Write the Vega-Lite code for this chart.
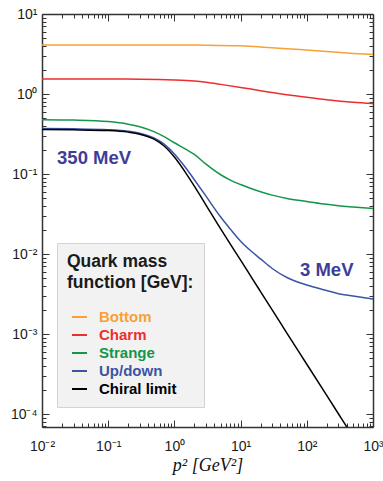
{
  "$schema": "https://vega.github.io/schema/vega-lite/v6.json",
  "width": 331,
  "height": 413,
  "autosize": "none",
  "padding": {"left": 42, "top": 14, "right": 10, "bottom": 54},
  "config": {
    "view": {"stroke": null},
    "font": "Liberation Sans",
    "axis": {"grid": false, "domainColor": "#333333", "domainWidth": 1.5, "tickColor": "#333333", "tickWidth": 1, "labelFont": "Liberation Sans", "labelFontSize": 14, "labelColor": "#1a1a1a"}
  },
  "datasets": {
    "curves": [
      {"x": 0.01, "y": 4.1, "s": "Bottom"}, {"x": 0.1, "y": 4.1, "s": "Bottom"}, {"x": 1, "y": 4.1, "s": "Bottom"}, {"x": 3, "y": 4.08, "s": "Bottom"}, {"x": 10, "y": 4.0, "s": "Bottom"}, {"x": 20, "y": 3.88, "s": "Bottom"}, {"x": 50, "y": 3.68, "s": "Bottom"}, {"x": 100, "y": 3.55, "s": "Bottom"}, {"x": 200, "y": 3.4, "s": "Bottom"}, {"x": 500, "y": 3.22, "s": "Bottom"}, {"x": 1000, "y": 3.12, "s": "Bottom"},
      {"x": 0.01, "y": 1.54, "s": "Charm"}, {"x": 0.1, "y": 1.54, "s": "Charm"}, {"x": 0.3, "y": 1.535, "s": "Charm"}, {"x": 1, "y": 1.5, "s": "Charm"}, {"x": 2, "y": 1.45, "s": "Charm"}, {"x": 3, "y": 1.4, "s": "Charm"}, {"x": 5, "y": 1.32, "s": "Charm"}, {"x": 10, "y": 1.21, "s": "Charm"}, {"x": 20, "y": 1.1, "s": "Charm"}, {"x": 50, "y": 0.98, "s": "Charm"}, {"x": 100, "y": 0.91, "s": "Charm"}, {"x": 200, "y": 0.85, "s": "Charm"}, {"x": 500, "y": 0.79, "s": "Charm"}, {"x": 1000, "y": 0.76, "s": "Charm"},
      {"x": 0.01, "y": 0.478, "s": "Strange"}, {"x": 0.03, "y": 0.472, "s": "Strange"}, {"x": 0.1, "y": 0.452, "s": "Strange"}, {"x": 0.2, "y": 0.42, "s": "Strange"}, {"x": 0.3, "y": 0.39, "s": "Strange"}, {"x": 0.5, "y": 0.337, "s": "Strange"}, {"x": 0.7, "y": 0.293, "s": "Strange"}, {"x": 1, "y": 0.246, "s": "Strange"}, {"x": 1.5, "y": 0.203, "s": "Strange"}, {"x": 2, "y": 0.176, "s": "Strange"}, {"x": 3, "y": 0.133, "s": "Strange"}, {"x": 5, "y": 0.098, "s": "Strange"}, {"x": 7, "y": 0.084, "s": "Strange"}, {"x": 10, "y": 0.074, "s": "Strange"}, {"x": 20, "y": 0.06, "s": "Strange"}, {"x": 30, "y": 0.0545, "s": "Strange"}, {"x": 50, "y": 0.0495, "s": "Strange"}, {"x": 100, "y": 0.0455, "s": "Strange"}, {"x": 200, "y": 0.0418, "s": "Strange"}, {"x": 300, "y": 0.0402, "s": "Strange"}, {"x": 500, "y": 0.0388, "s": "Strange"}, {"x": 1000, "y": 0.0372, "s": "Strange"},
      {"x": 0.01, "y": 0.37, "s": "Up/down"}, {"x": 0.03, "y": 0.367, "s": "Up/down"}, {"x": 0.1, "y": 0.358, "s": "Up/down"}, {"x": 0.2, "y": 0.343, "s": "Up/down"}, {"x": 0.3, "y": 0.324, "s": "Up/down"}, {"x": 0.5, "y": 0.28, "s": "Up/down"}, {"x": 0.7, "y": 0.236, "s": "Up/down"}, {"x": 1, "y": 0.178, "s": "Up/down"}, {"x": 1.5, "y": 0.118, "s": "Up/down"}, {"x": 2, "y": 0.085, "s": "Up/down"}, {"x": 3, "y": 0.053, "s": "Up/down"}, {"x": 5, "y": 0.029, "s": "Up/down"}, {"x": 7, "y": 0.0205, "s": "Up/down"}, {"x": 10, "y": 0.0145, "s": "Up/down"}, {"x": 15, "y": 0.0106, "s": "Up/down"}, {"x": 20, "y": 0.0087, "s": "Up/down"}, {"x": 30, "y": 0.0066, "s": "Up/down"}, {"x": 50, "y": 0.0051, "s": "Up/down"}, {"x": 100, "y": 0.0041, "s": "Up/down"}, {"x": 200, "y": 0.0035, "s": "Up/down"}, {"x": 300, "y": 0.0032, "s": "Up/down"}, {"x": 500, "y": 0.003, "s": "Up/down"}, {"x": 1000, "y": 0.00275, "s": "Up/down"},
      {"x": 0.01, "y": 0.36, "s": "Chiral limit"}, {"x": 0.03, "y": 0.357, "s": "Chiral limit"}, {"x": 0.1, "y": 0.349, "s": "Chiral limit"}, {"x": 0.2, "y": 0.334, "s": "Chiral limit"}, {"x": 0.3, "y": 0.315, "s": "Chiral limit"}, {"x": 0.5, "y": 0.271, "s": "Chiral limit"}, {"x": 0.7, "y": 0.224, "s": "Chiral limit"}, {"x": 1, "y": 0.163, "s": "Chiral limit"}, {"x": 1.5, "y": 0.102, "s": "Chiral limit"}, {"x": 2, "y": 0.0705, "s": "Chiral limit"}, {"x": 3, "y": 0.041, "s": "Chiral limit"}, {"x": 5, "y": 0.0206, "s": "Chiral limit"}, {"x": 7, "y": 0.0133, "s": "Chiral limit"}, {"x": 10, "y": 0.0084, "s": "Chiral limit"}, {"x": 15, "y": 0.00494, "s": "Chiral limit"}, {"x": 20, "y": 0.0034, "s": "Chiral limit"}, {"x": 30, "y": 0.00201, "s": "Chiral limit"}, {"x": 50, "y": 0.00103, "s": "Chiral limit"}, {"x": 100, "y": 0.00042, "s": "Chiral limit"}, {"x": 200, "y": 0.000171, "s": "Chiral limit"}, {"x": 300, "y": 0.000101, "s": "Chiral limit"}, {"x": 500, "y": 0.000052, "s": "Chiral limit"}, {"x": 1000, "y": 0.000021, "s": "Chiral limit"}
    ],
    "note1": [{"x": 0.0169, "y": 0.16, "t": "350 MeV"}],
    "note2": [{"x": 79, "y": 0.0064, "t": "3 MeV"}]
  },
  "layer": [
    {
      "data": {"name": "curves"},
      "mark": {"type": "line", "clip": true, "strokeWidth": 1.5, "interpolate": "monotone"},
      "encoding": {
        "x": {"field": "x", "type": "quantitative",
          "scale": {"type": "log", "domain": [0.01, 1000], "nice": false},
          "axis": {"orient": "bottom", "title": "p² [GeV²]", "titleFont": "Liberation Serif", "titleFontStyle": "italic", "titleFontWeight": "normal", "titleFontSize": 18, "titleColor": "#111111", "titlePadding": 3,
            "values": [0.01, 0.1, 1, 10, 100, 1000], "ticks": false,
            "labelExpr": "datum.value == 0.01 ? '10⁻²' : datum.value == 0.1 ? '10⁻¹' : datum.value == 1 ? '10⁰' : datum.value == 10 ? '10¹' : datum.value == 100 ? '10²' : '10³'",
            "labelPadding": 12, "labelFlush": false}},
        "y": {"field": "y", "type": "quantitative",
          "scale": {"type": "log", "domain": [0.000069, 10], "nice": false},
          "axis": {"orient": "left", "title": null,
            "values": [0.0001, 0.001, 0.01, 0.1, 1, 10], "ticks": false,
            "labelExpr": "datum.value == 0.0001 ? '10⁻⁴' : datum.value == 0.001 ? '10⁻³' : datum.value == 0.01 ? '10⁻²' : datum.value == 0.1 ? '10⁻¹' : datum.value == 1 ? '10⁰' : '10¹'",
            "labelPadding": 5, "labelFlush": false}},
        "color": {"field": "s", "type": "nominal",
          "scale": {"domain": ["Bottom", "Charm", "Strange", "Up/down", "Chiral limit"], "range": ["#F7A136", "#EE2E2E", "#13964A", "#3A55A4", "#000000"]},
          "legend": {"orient": "none", "legendX": 15, "legendY": 229, "padding": 10, "fillColor": "#F2F2F2", "strokeColor": "#D3D3D3",
            "title": ["Quark mass", "function [GeV]:"], "titleFont": "Liberation Sans", "titleFontSize": 17.5, "titleFontWeight": "bold", "titleColor": "#1a1a1a", "titleLineHeight": 21, "titlePadding": 17,
            "labelFont": "Liberation Sans", "labelFontSize": 15, "labelFontWeight": "bold", "labelOffset": 11,
            "symbolType": "stroke", "symbolSize": 225, "symbolStrokeWidth": 2, "symbolOffset": 4, "rowPadding": 1,
            "encode": {"labels": {"update": {"fill": {"scale": "color", "field": "value"}}}}}}
      }
    },
    {
      "data": {"name": "note1"},
      "mark": {"type": "text", "fontWeight": "bold", "fontSize": 18.5, "align": "left", "baseline": "middle", "color": "#3E3E98", "font": "Liberation Sans"},
      "encoding": {
        "x": {"field": "x", "type": "quantitative", "axis": {"orient": "top", "title": null, "labels": false,
            "values": [0.01,0.02,0.03,0.04,0.05,0.06,0.07,0.08,0.09,0.1,0.2,0.3,0.4,0.5,0.6,0.7,0.8,0.9,1,2,3,4,5,6,7,8,9,10,20,30,40,50,60,70,80,90,100,200,300,400,500,600,700,800,900,1000],
            "tickSize": {"condition": {"test": "indexof([0.01,0.1,1,10,100,1000], datum.value) >= 0", "value": -7}, "value": -4}}},
        "y": {"field": "y", "type": "quantitative", "axis": {"orient": "right", "title": null, "labels": false,
            "values": [0.00007,0.00008,0.00009,0.0001,0.0002,0.0003,0.0004,0.0005,0.0006,0.0007,0.0008,0.0009,0.001,0.002,0.003,0.004,0.005,0.006,0.007,0.008,0.009,0.01,0.02,0.03,0.04,0.05,0.06,0.07,0.08,0.09,0.1,0.2,0.3,0.4,0.5,0.6,0.7,0.8,0.9,1,2,3,4,5,6,7,8,9,10],
            "tickSize": {"condition": {"test": "indexof([0.0001,0.001,0.01,0.1,1,10], datum.value) >= 0", "value": -7}, "value": -4}}},
        "text": {"field": "t", "type": "nominal"}
      }
    },
    {
      "data": {"name": "note2"},
      "mark": {"type": "text", "fontWeight": "bold", "fontSize": 18.5, "align": "left", "baseline": "middle", "color": "#3E3E98", "font": "Liberation Sans"},
      "encoding": {
        "x": {"field": "x", "type": "quantitative", "axis": {"orient": "bottom", "title": null, "labels": false, "domain": false,
            "values": [0.01,0.02,0.03,0.04,0.05,0.06,0.07,0.08,0.09,0.1,0.2,0.3,0.4,0.5,0.6,0.7,0.8,0.9,1,2,3,4,5,6,7,8,9,10,20,30,40,50,60,70,80,90,100,200,300,400,500,600,700,800,900,1000],
            "tickSize": {"condition": {"test": "indexof([0.01,0.1,1,10,100,1000], datum.value) >= 0", "value": -7}, "value": -4}}},
        "y": {"field": "y", "type": "quantitative", "axis": {"orient": "left", "title": null, "labels": false, "domain": false,
            "values": [0.00007,0.00008,0.00009,0.0001,0.0002,0.0003,0.0004,0.0005,0.0006,0.0007,0.0008,0.0009,0.001,0.002,0.003,0.004,0.005,0.006,0.007,0.008,0.009,0.01,0.02,0.03,0.04,0.05,0.06,0.07,0.08,0.09,0.1,0.2,0.3,0.4,0.5,0.6,0.7,0.8,0.9,1,2,3,4,5,6,7,8,9,10],
            "tickSize": {"condition": {"test": "indexof([0.0001,0.001,0.01,0.1,1,10], datum.value) >= 0", "value": -7}, "value": -4}}},
        "text": {"field": "t", "type": "nominal"}
      }
    }
  ]
}
